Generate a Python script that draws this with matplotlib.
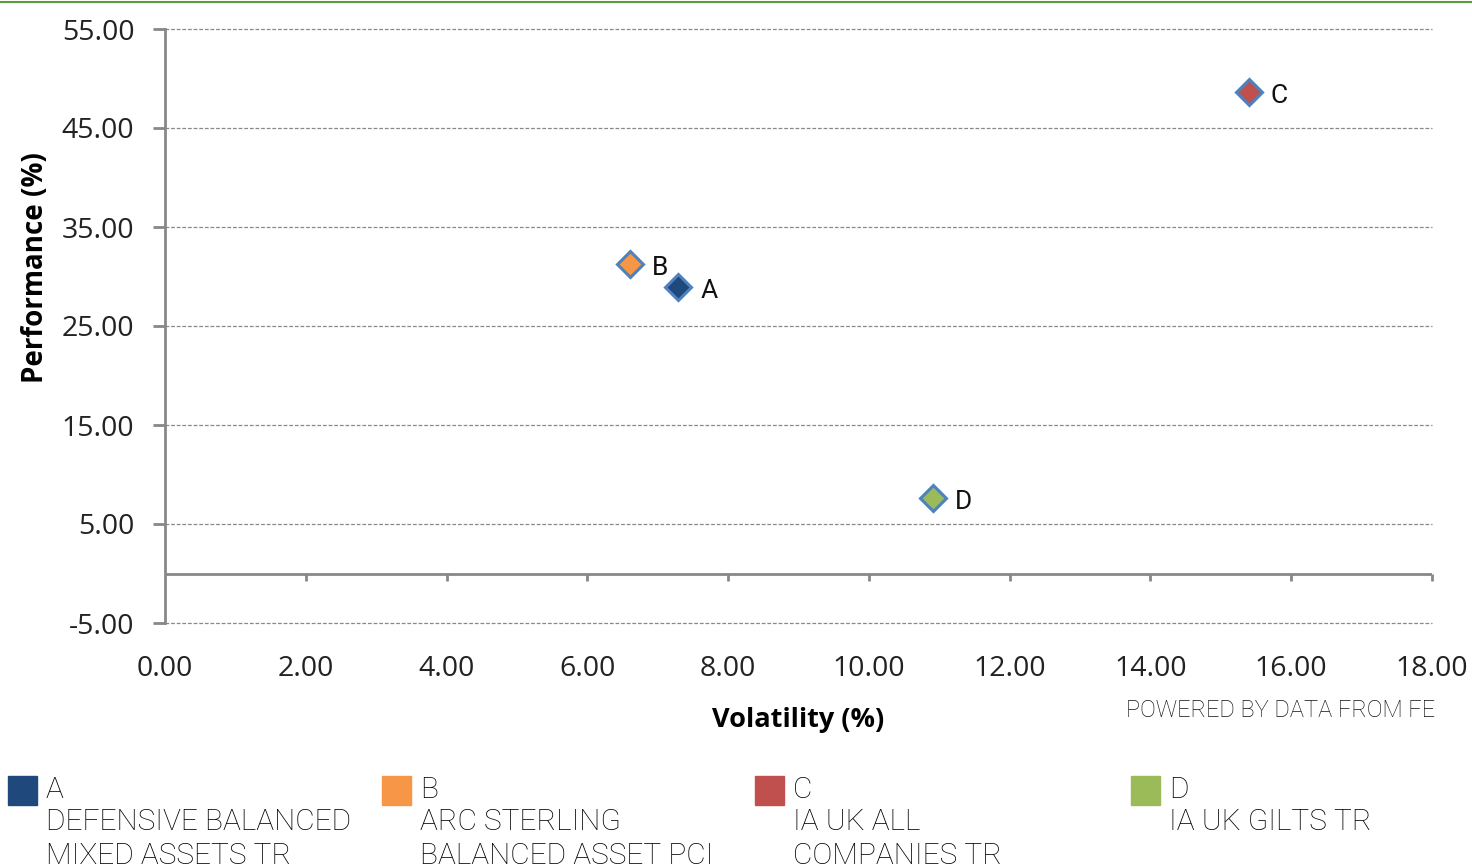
import matplotlib.pyplot as plt
from matplotlib.patches import Rectangle
from matplotlib.lines import Line2D

labels = ['A', 'B', 'C', 'D']
names = ['DEFENSIVE BALANCED\nMIXED ASSETS TR', 'ARC STERLING\nBALANCED ASSET PCI',
         'IA UK ALL\nCOMPANIES TR', 'IA UK GILTS TR']
volatility = [7.29, 6.60, 15.40, 10.91]
performance = [28.9, 31.3, 48.6, 7.6]
colors = ['#1F497D', '#F79646', '#C0504D', '#9BBB59']
yticks = [-5, 5, 15, 25, 35, 45, 55]
xticks = [0, 2, 4, 6, 8, 10, 12, 14, 16, 18]

plt.rcParams['font.family'] = ['Open Sans', 'DejaVu Sans']

fig = plt.figure(figsize=(14.72, 8.68), dpi=100)
ax = fig.add_axes([165 / 1472, 1 - 623 / 868, 1267 / 1472, 594 / 868])

for x, y, c, l in zip(volatility, performance, colors, labels):
    ax.plot(x, y, marker='D', ms=13.5, mfc=c, mec='#4F81BD', mew=2.2, ls='none', zorder=5)
    ax.annotate(l, (x, y), xytext=(22, -4), textcoords='offset pixels',
                ha='left', va='center', fontsize=19, color='#111111',
                family=['Roboto', 'DejaVu Sans'])

ax.set_xlim(0, 18)
ax.set_ylim(-5, 55)
ax.set_yticks(yticks)
ax.set_xticks(xticks)
ax.set_yticklabels(['%.2f' % v for v in yticks], fontsize=20.5, color='#222222')
ax.set_xticklabels(['%.2f' % v for v in xticks], fontsize=20.5, color='#222222')

for v in yticks:
    ax.axhline(v, color='#888888', lw=0.9, ls=(0, (3, 1.5)), zorder=1, clip_on=False)

for s in ['top', 'right', 'bottom']:
    ax.spines[s].set_visible(False)
ax.spines['left'].set_color('#888888')
ax.spines['left'].set_linewidth(2)
ax.tick_params(axis='y', length=9, width=2, color='#888888', pad=13)
ax.tick_params(axis='x', length=0, pad=23)

# x axis line drawn at zero with downward ticks
ax.axhline(0, color='#888888', lw=2, zorder=2)
for v in xticks[1:]:
    ax.plot([v, v], [0, -0.8], color='#888888', lw=2, solid_capstyle='butt', clip_on=False)

ax.set_ylabel('Performance (%)', fontsize=20, fontweight='bold')
ax.yaxis.set_label_coords(-(165 - 50) / 1267, (623 - 268) / 594)
ax.set_xlabel('Volatility (%)', fontsize=19.5, fontweight='bold', labelpad=17)

fig.text(1435 / 1472, 1 - 710 / 868, 'POWERED BY DATA FROM FE', ha='right', va='center',
         fontsize=17, color='#111111', family=['Roboto', 'DejaVu Sans'], fontweight='light')

fig.add_artist(Line2D([0, 1], [1 - 2 / 868, 1 - 2 / 868], color='#5A9A3A', lw=1.5))

box_x = [8, 382, 755, 1131]
for bx, c, l, n in zip(box_x, colors, labels, names):
    fig.add_artist(Rectangle((bx / 1472, 1 - 805 / 868), 29 / 1472, 29 / 868,
                             color=c, transform=fig.transFigure))
    fig.text((bx + 38) / 1472, 1 - 790 / 868, l, ha='left', va='center',
             fontsize=21.5, color='#000000', family=['Roboto', 'DejaVu Sans'], fontweight='light')
    fig.text((bx + 38) / 1472, 1 - 808 / 868, n, ha='left', va='top',
             fontsize=21.5, color='#000000', linespacing=1.25,
             family=['Roboto', 'DejaVu Sans'], fontweight='light')

fig.savefig('out.png', dpi=100)
